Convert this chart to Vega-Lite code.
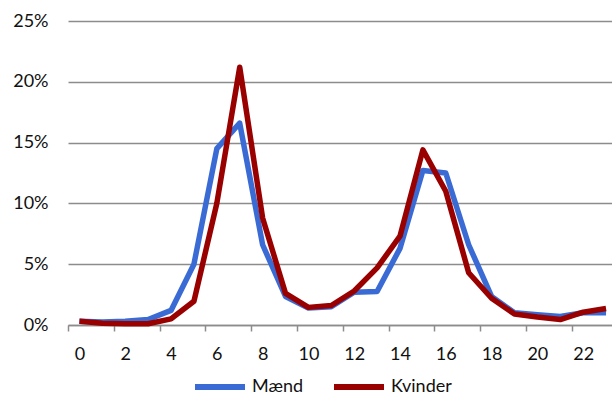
{
  "$schema": "https://vega.github.io/schema/vega-lite/v6.json",
  "autosize": "none",
  "width": 544,
  "height": 304,
  "padding": {"left": 68, "top": 21, "right": 0, "bottom": 72},
  "background": "white",
  "config": {
    "view": {"stroke": null},
    "font": "Lato",
    "axis": {"labelFont": "Lato", "labelFontSize": 18, "labelColor": "#111111"},
    "legend": {"labelFont": "Lato", "labelFontSize": 18, "labelColor": "#111111"}
  },
  "data": {
    "values": [
      {"hour": 0, "group": "Mænd", "value": 0.003},
      {"hour": 1, "group": "Mænd", "value": 0.0025},
      {"hour": 2, "group": "Mænd", "value": 0.003},
      {"hour": 3, "group": "Mænd", "value": 0.0045},
      {"hour": 4, "group": "Mænd", "value": 0.012},
      {"hour": 5, "group": "Mænd", "value": 0.05},
      {"hour": 6, "group": "Mænd", "value": 0.145},
      {"hour": 7, "group": "Mænd", "value": 0.166},
      {"hour": 8, "group": "Mænd", "value": 0.066},
      {"hour": 9, "group": "Mænd", "value": 0.0235},
      {"hour": 10, "group": "Mænd", "value": 0.014},
      {"hour": 11, "group": "Mænd", "value": 0.015},
      {"hour": 12, "group": "Mænd", "value": 0.027},
      {"hour": 13, "group": "Mænd", "value": 0.0275},
      {"hour": 14, "group": "Mænd", "value": 0.063},
      {"hour": 15, "group": "Mænd", "value": 0.127},
      {"hour": 16, "group": "Mænd", "value": 0.125},
      {"hour": 17, "group": "Mænd", "value": 0.066},
      {"hour": 18, "group": "Mænd", "value": 0.0235},
      {"hour": 19, "group": "Mænd", "value": 0.01},
      {"hour": 20, "group": "Mænd", "value": 0.0085},
      {"hour": 21, "group": "Mænd", "value": 0.007},
      {"hour": 22, "group": "Mænd", "value": 0.01},
      {"hour": 23, "group": "Mænd", "value": 0.01},
      {"hour": 0, "group": "Kvinder", "value": 0.003},
      {"hour": 1, "group": "Kvinder", "value": 0.0015},
      {"hour": 2, "group": "Kvinder", "value": 0.001},
      {"hour": 3, "group": "Kvinder", "value": 0.001},
      {"hour": 4, "group": "Kvinder", "value": 0.005},
      {"hour": 5, "group": "Kvinder", "value": 0.0195},
      {"hour": 6, "group": "Kvinder", "value": 0.1},
      {"hour": 7, "group": "Kvinder", "value": 0.212},
      {"hour": 8, "group": "Kvinder", "value": 0.088},
      {"hour": 9, "group": "Kvinder", "value": 0.026},
      {"hour": 10, "group": "Kvinder", "value": 0.0145},
      {"hour": 11, "group": "Kvinder", "value": 0.016},
      {"hour": 12, "group": "Kvinder", "value": 0.028},
      {"hour": 13, "group": "Kvinder", "value": 0.047},
      {"hour": 14, "group": "Kvinder", "value": 0.073},
      {"hour": 15, "group": "Kvinder", "value": 0.144},
      {"hour": 16, "group": "Kvinder", "value": 0.11},
      {"hour": 17, "group": "Kvinder", "value": 0.043},
      {"hour": 18, "group": "Kvinder", "value": 0.022},
      {"hour": 19, "group": "Kvinder", "value": 0.009},
      {"hour": 20, "group": "Kvinder", "value": 0.0065},
      {"hour": 21, "group": "Kvinder", "value": 0.0045},
      {"hour": 22, "group": "Kvinder", "value": 0.0105},
      {"hour": 23, "group": "Kvinder", "value": 0.0135}
    ]
  },
  "mark": {"type": "line", "strokeWidth": 5.5, "strokeJoin": "round", "strokeCap": "butt", "clip": false},
  "encoding": {
    "x": {
      "field": "hour",
      "type": "quantitative",
      "scale": {"domain": [-0.5, 23.26], "nice": false, "zero": false},
      "axis": {
        "title": null,
        "values": [-0.5, 1.5, 3.5, 5.5, 7.5, 9.5, 11.5, 13.5, 15.5, 17.5, 19.5, 21.5],
        "labelExpr": "format(datum.value + 0.5, 'd')",
        "labelOffset": 11.45,
        "labelAlign": "center",
        "labelPadding": 14,
        "tickSize": 6,
        "tickColor": "#8c8c8c",
        "tickWidth": 1.5,
        "domainColor": "#8c8c8c",
        "domainWidth": 1.5,
        "grid": false,
        "labelFlush": false,
        "labelOverlap": false
      }
    },
    "y": {
      "field": "value",
      "type": "quantitative",
      "scale": {"domain": [0, 0.25], "nice": false},
      "axis": {
        "title": null,
        "values": [0, 0.05, 0.1, 0.15, 0.2, 0.25],
        "format": ".0%",
        "ticks": false,
        "tickSize": 0,
        "domain": false,
        "labelPadding": 20,
        "gridColor": "#8c8c8c",
        "gridWidth": 1.5
      }
    },
    "color": {
      "field": "group",
      "type": "nominal",
      "sort": ["Mænd", "Kvinder"],
      "scale": {"domain": ["Mænd", "Kvinder"], "range": ["#3a6bd5", "#990000"]},
      "legend": {
        "title": null,
        "orient": "none",
        "direction": "horizontal",
        "legendX": 124,
        "legendY": 338,
        "symbolType": "stroke",
        "symbolSize": 2500,
        "symbolStrokeWidth": 6,
        "labelOffset": 4,
        "columnPadding": 18
      }
    }
  }
}
